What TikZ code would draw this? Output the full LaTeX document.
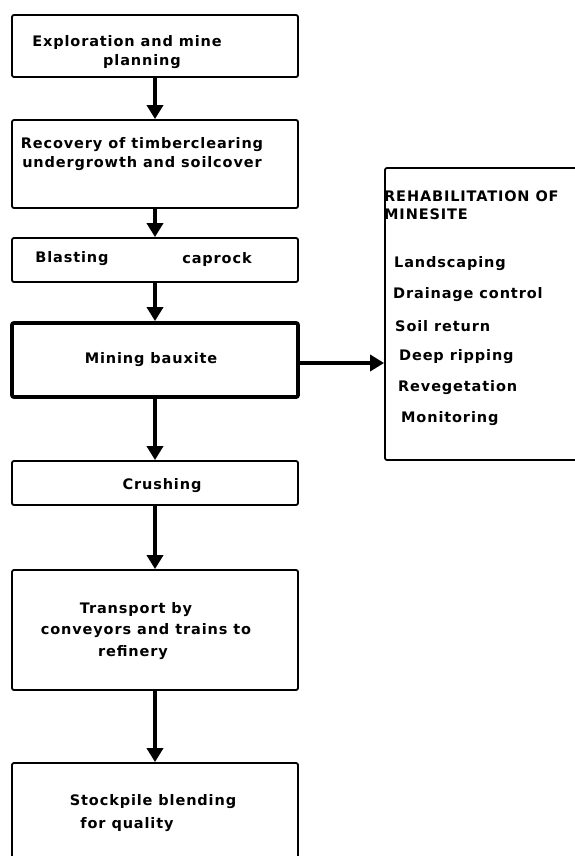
\documentclass[tikz,border=0pt]{standalone}
\usepackage{fontspec}
\setmainfont{DejaVu Sans}[LetterSpace=6]
\usetikzlibrary{arrows.meta}
\begin{document}
\begin{tikzpicture}[x=1pt,y=-1pt,
  box/.style={draw, line width=1.8pt, rounded corners=2pt, minimum width=286pt, inner sep=0pt},
  thickbox/.style={box, line width=3.8pt},
  txt/.style={inner sep=0pt, font=\fontsize{14.5}{17}\selectfont\bfseries},
  arr/.style={line width=4pt, -{Triangle[length=14pt,width=16pt]}}]
\useasboundingbox (0,0) rectangle (575,856);
\clip (0,0) rectangle (575,856);
% left column boxes
\node[box, minimum height=62pt]  (b1) at (155,46) {};
\node[box, minimum height=88pt]  (b2) at (155,164) {};
\node[box, minimum height=44pt]  (b3) at (155,260) {};
\node[thickbox, minimum height=74pt] (b4) at (155,360) {};
\node[box, minimum height=44pt]  (b5) at (155,483) {};
\node[box, minimum height=120pt] (b6) at (155,630) {};
\node[box, minimum height=120pt] (b7) at (155,823) {};
% right box
\node[box, minimum width=220pt, minimum height=292pt] (r) at (495,314) {};
% texts
\node[txt] (t1a) at (127,43) {Exploration and mine};
\node[txt] (t1b) at (142,62) {planning};
\node[txt] (t2a) at (142,145) {Recovery of timberclearing};
\node[txt] (t2b) at (142,164) {undergrowth and soilcover};
\node[txt] (t3a) at (72,259) {Blasting};
\node[txt] (t3b) at (217,259) {caprock};
\node[txt] (t4) at (151,360) {Mining bauxite};
\node[txt] (t5) at (162,486) {Crushing};
\node[txt] (t6a) at (136,610) {Transport by};
\node[txt] (t6b) at (146,631) {conveyors and trains to};
\node[txt] (t6c) at (133,653) {refinery};
\node[txt] (t7a) at (153,802) {Stockpile blending};
\node[txt] (t7b) at (127,825) {for quality};
\node[txt, anchor=west] (ra) at (384,196) {REHABILITATION OF};
\node[txt, anchor=west] (rb) at (384,214) {MINESITE};
\node[txt, anchor=west] (r1) at (394,264) {Landscaping};
\node[txt, anchor=west] (r2) at (393,295) {Drainage control};
\node[txt, anchor=west] (r3) at (395,326) {Soil return};
\node[txt, anchor=west] (r4) at (399,357) {Deep ripping};
\node[txt, anchor=west] (r5) at (398,388) {Revegetation};
\node[txt, anchor=west] (r6) at (401,419) {Monitoring};
% connectors
\draw[arr] (b1) -- (b2);
\draw[arr] (b2) -- (b3);
\draw[arr] (b3) -- (b4);
\draw[arr] (b4) -- (b5);
\draw[arr] (b5) -- (b6);
\draw[arr] (b6) -- (b7);
\draw[arr] ([yshift=-3pt]b4.east) -- ([yshift=-3pt]b4.east -| r.west);
\end{tikzpicture}
\end{document}
